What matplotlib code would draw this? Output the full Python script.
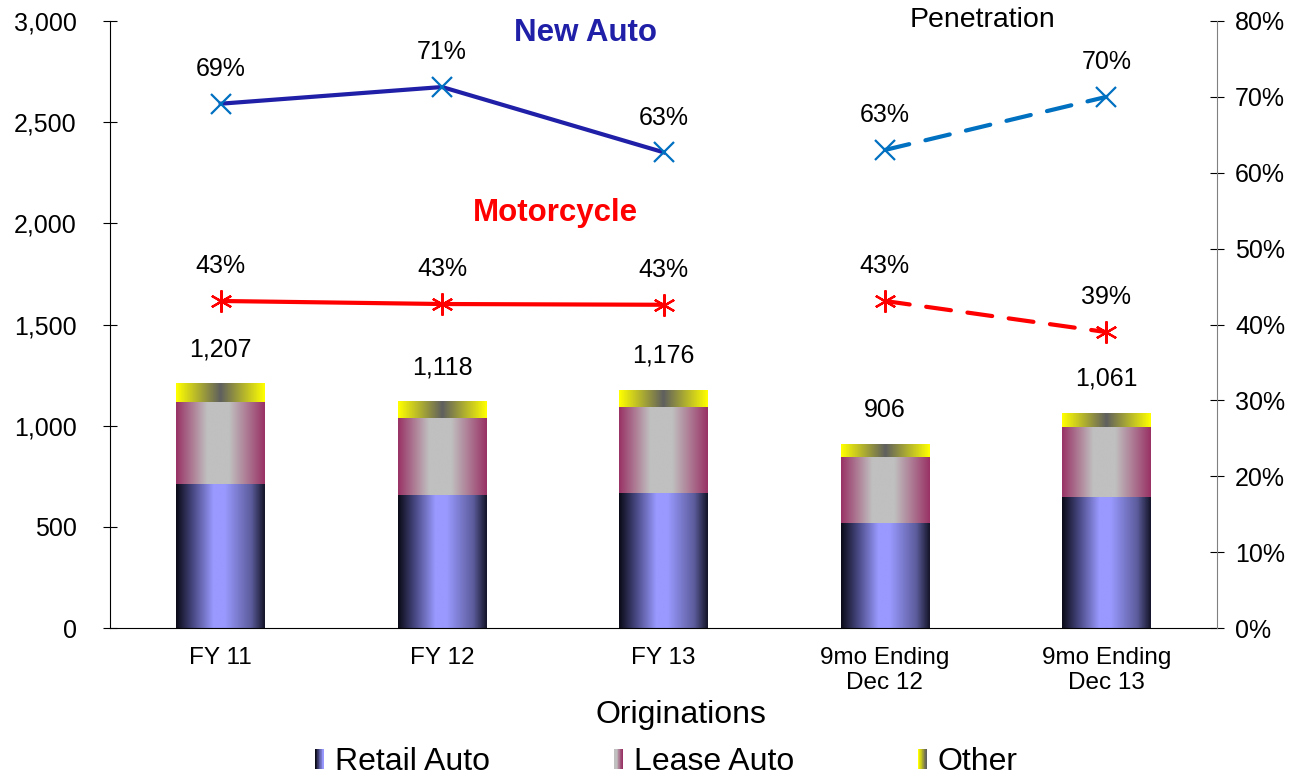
import matplotlib
matplotlib.use("Agg")
import matplotlib.pyplot as plt
import numpy as np
from matplotlib.colors import LinearSegmentedColormap
from matplotlib.patches import Rectangle
from matplotlib.legend_handler import HandlerBase

plt.rcParams['font.family'] = ['Liberation Sans', 'DejaVu Sans']

categories = ['FY 11', 'FY 12', 'FY 13', '9mo Ending\nDec 12', '9mo Ending\nDec 13']
retail = [710, 657, 667, 519, 647]
lease = [407, 381, 425, 326, 346]
other = [90, 80, 84, 61, 68]
totals = [1207, 1118, 1176, 906, 1061]

new_auto = [69.1, 71.3, 62.7, 63.0, 70.0]
new_auto_lbl = ['69%', '71%', '63%', '63%', '70%']
moto = [43.1, 42.7, 42.6, 43.1, 39.0]
moto_lbl = ['43%', '43%', '43%', '43%', '39%']

cm_retail = LinearSegmentedColormap.from_list('r', [(0, '#0b0b18'), (0.18, '#45457e'), (0.42, '#9999ff'),
                                                    (0.55, '#9999ff'), (0.85, '#5c5c9c'), (1, '#15152a')])
cm_lease = LinearSegmentedColormap.from_list('l', [(0, '#993366'), (0.35, '#c0c0c0'), (0.6, '#c0c0c0'),
                                                   (1, '#993366')])
cm_other = LinearSegmentedColormap.from_list('o', [(0, '#ffff00'), (0.5, '#5f5f5f'), (1, '#ffff00')])

fig = plt.figure(figsize=(12.89, 7.76), dpi=100)
ax = fig.add_axes([110 / 1289, 1 - 628 / 776, (1217 - 110) / 1289, (628 - 21) / 776])
ax2 = ax.twinx()

x = np.arange(len(categories))
w = 0.4
grad = np.linspace(0, 1, 200).reshape(1, -1)
fs = 18


def gbar(xc, bottom, height, cmap):
    ax.imshow(grad, cmap=cmap, aspect='auto', extent=(xc - w / 2, xc + w / 2, bottom, bottom + height),
              interpolation='bilinear', zorder=2)


for i in range(len(x)):
    gbar(x[i], 0, retail[i], cm_retail)
    gbar(x[i], retail[i], lease[i], cm_lease)
    gbar(x[i], retail[i] + lease[i], other[i], cm_other)
    ax.annotate(f'{totals[i]:,}', (x[i], retail[i] + lease[i] + other[i]), xytext=(0, 25),
                textcoords='offset points', ha='center', va='center', fontsize=fs)

ax.set_xlim(-0.5, 4.5)
ax.set_ylim(0, 3000)
ax.set_yticks(np.arange(0, 3001, 500))
ax.set_yticklabels([f'{v:,}' for v in range(0, 3001, 500)])
ax.set_xticks(x)
ax.set_xticklabels(categories, fontsize=17.5, linespacing=1.15)
ax.tick_params(axis='x', length=0, pad=14)
ax.tick_params(axis='y', direction='inout', length=10, labelsize=fs, pad=19)
for s in ['top', 'right']:
    ax.spines[s].set_visible(False)

# penetration lines
ax2.plot(x[:3], new_auto[:3], color='#1f1fa8', lw=3, zorder=3)
ax2.plot(x[3:], new_auto[3:], color='#0070c0', lw=3, ls=(0, (6, 4)), dash_capstyle='round', zorder=3)
ax2.plot(x, new_auto, ls='none', marker='x', ms=14, mew=1.6, color='#0070c0', zorder=4)
ax2.plot(x[:3], moto[:3], color='#ff0000', lw=3, zorder=3)
ax2.plot(x[3:], moto[3:], color='#ff0000', lw=3, ls=(0, (6, 4)), dash_capstyle='round', zorder=3)
ax2.plot(x, moto, ls='none', marker=(6, 2, 0), ms=16, mew=1.6, color='#ff0000', zorder=4)

for i in range(len(x)):
    ax2.annotate(new_auto_lbl[i], (x[i], new_auto[i]), xytext=(0, 25), textcoords='offset points',
                 ha='center', va='center', fontsize=fs)
    ax2.annotate(moto_lbl[i], (x[i], moto[i]), xytext=(0, 25), textcoords='offset points',
                 ha='center', va='center', fontsize=fs)

ax2.set_ylim(0, 80)
ax2.set_yticks(np.arange(0, 81, 10))
ax2.set_yticklabels([f'{v}%' for v in range(0, 81, 10)])
ax2.tick_params(axis='y', direction='inout', length=10, labelsize=fs, pad=8)
ax2.spines['right'].set_color('#808080')
for s in ['top', 'left', 'bottom']:
    ax2.spines[s].set_visible(False)

fig.text(586 / 1289, 1 - 33 / 776, 'New Auto', color='#1f1fa8', fontsize=22.5, fontweight='bold',
         ha='center', va='center')
fig.text(555 / 1289, 1 - 213 / 776, 'Motorcycle', color='#ff0000', fontsize=22.5, fontweight='bold',
         ha='center', va='center')
fig.text(983 / 1289, 1 - 20 / 776, 'Penetration', color='black', fontsize=20.5, ha='center', va='center')
fig.text(681 / 1289, 1 - 715 / 776, 'Originations', fontsize=23, ha='center', va='center')


class GradHandler(HandlerBase):
    def __init__(self, cmap, a, b):
        super().__init__()
        self.cmap, self.a, self.b = cmap, a, b

    def create_artists(self, legend, orig, xd, yd, width, height, fontsize, trans):
        n = 12
        sw = 6
        hh = 14
        x0 = width - sw
        y0 = (height - hh) / 2
        arts = []
        for k in range(n):
            c = self.cmap(self.a + (self.b - self.a) * k / (n - 1))
            arts.append(Rectangle((x0 + k * sw / n - xd, y0 - yd), sw / n + 0.3, hh, facecolor=c,
                                  edgecolor='none', transform=trans))
        return arts


h1, h2, h3 = Rectangle((0, 0), 1, 1), Rectangle((0, 0), 1, 1), Rectangle((0, 0), 1, 1)
fig.legend([h1, h2, h3], ['Retail Auto', 'Lease Auto', 'Other'], loc='center',
           bbox_to_anchor=(665 / 1289, 1 - 762 / 776), ncol=3, frameon=False, fontsize=23,
           handler_map={h1: GradHandler(cm_retail, 0.0, 0.45), h2: GradHandler(cm_lease, 0.45, 1.0),
                        h3: GradHandler(cm_other, 0.0, 0.5)},
           handlelength=0.35, handletextpad=0.35, columnspacing=3.8, borderpad=0.1)

fig.savefig('out.png', dpi=100)
